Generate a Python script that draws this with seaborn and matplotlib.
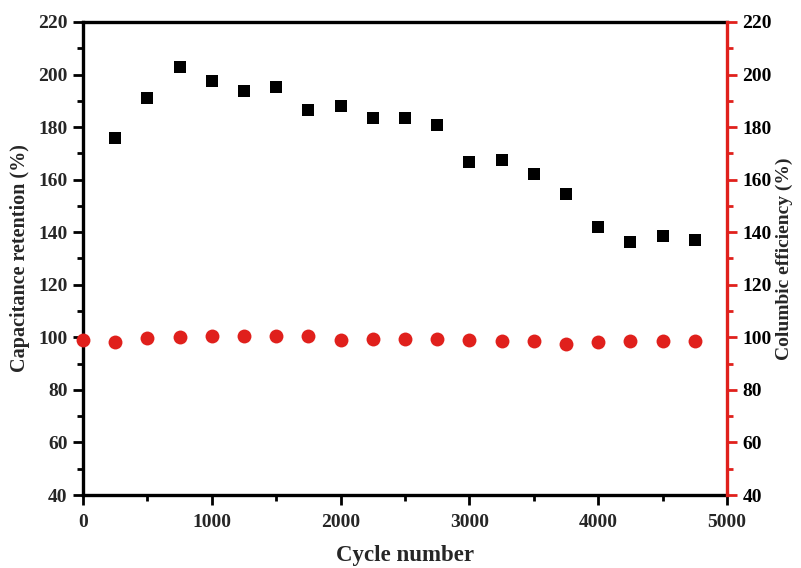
import numpy as np
import pandas as pd
import matplotlib
matplotlib.use("Agg")
import matplotlib.pyplot as plt
from matplotlib.ticker import MultipleLocator
import seaborn as sns

# Cycling data
cycles_retention = [250, 500, 750, 1000, 1250, 1500, 1750, 2000, 2250, 2500,
                    2750, 3000, 3250, 3500, 3750, 4000, 4250, 4500, 4750]
retention = [175.8, 191.0, 202.8, 197.5, 193.7, 195.2, 186.5, 188.0, 183.5, 183.5,
             180.8, 166.7, 167.5, 162.0, 154.5, 142.0, 136.3, 138.7, 137.0]

cycles_efficiency = [0, 250, 500, 750, 1000, 1250, 1500, 1750, 2000, 2250,
                     2500, 2750, 3000, 3250, 3500, 3750, 4000, 4250, 4500, 4750]
efficiency = [99.1, 98.1, 99.6, 100.1, 100.4, 100.6, 100.4, 100.5, 99.0, 99.3,
              99.5, 99.5, 98.9, 98.5, 98.7, 97.6, 98.1, 98.7, 98.7, 98.7]

df_ret = pd.DataFrame({"cycle": cycles_retention, "retention": retention})
df_eff = pd.DataFrame({"cycle": cycles_efficiency, "efficiency": efficiency})

sns.set_style("ticks")
plt.rcParams["font.family"] = ["Liberation Serif", "DejaVu Serif"]
plt.rcParams["font.weight"] = "bold"

RED = "#e0201c"

fig = plt.figure(figsize=(8.01, 5.68), dpi=100)
ax = fig.add_axes([0.1036, 0.1285, 0.8040, 0.8328])
ax2 = ax.twinx()

sns.scatterplot(data=df_ret, x="cycle", y="retention", ax=ax, marker="s",
                color="black", s=85, linewidth=0, clip_on=False, zorder=3)
sns.scatterplot(data=df_eff, x="cycle", y="efficiency", ax=ax2, marker="o",
                color=RED, s=100, linewidth=0, clip_on=False, zorder=3)

for a in (ax, ax2):
    a.set_xlim(0, 5000)
    a.set_ylim(40, 220)
    a.yaxis.set_major_locator(MultipleLocator(20))
    a.yaxis.set_minor_locator(MultipleLocator(10))

ax.xaxis.set_major_locator(MultipleLocator(1000))
ax.xaxis.set_minor_locator(MultipleLocator(500))

for side in ("left", "bottom", "top"):
    ax.spines[side].set_linewidth(2.4)
    ax.spines[side].set_color("black")
ax.spines["right"].set_visible(False)
for side in ("left", "bottom", "top"):
    ax2.spines[side].set_visible(False)
ax2.spines["right"].set_color(RED)
ax2.spines["right"].set_linewidth(2.4)

ax.tick_params(axis="both", which="major", direction="out", length=7, width=2,
               labelsize=14, color="black", pad=4)
ax.tick_params(axis="both", which="minor", direction="out", length=4.5, width=2,
               color="black")
ax.tick_params(axis="x", which="major", pad=7)
ax.tick_params(axis="x", which="both", top=False)
ax.tick_params(axis="y", which="both", right=False)
ax2.tick_params(axis="y", which="major", direction="out", length=7, width=2,
                labelsize=14, color=RED, labelcolor="black", pad=4)
ax2.tick_params(axis="y", which="minor", direction="out", length=4.5, width=2,
                color=RED)

for lab in ax.get_xticklabels() + ax.get_yticklabels() + ax2.get_yticklabels():
    lab.set_fontweight("bold")

ax.set_xlabel("Cycle number", fontsize=16.5, fontweight="bold", labelpad=10)
ax.set_ylabel("Capacitance retention (%)", fontsize=14.5, fontweight="bold", labelpad=6)
ax2.set_ylabel("Columbic efficiency (%)", fontsize=14, fontweight="bold", labelpad=3)

fig.savefig("out.png", dpi=100)
